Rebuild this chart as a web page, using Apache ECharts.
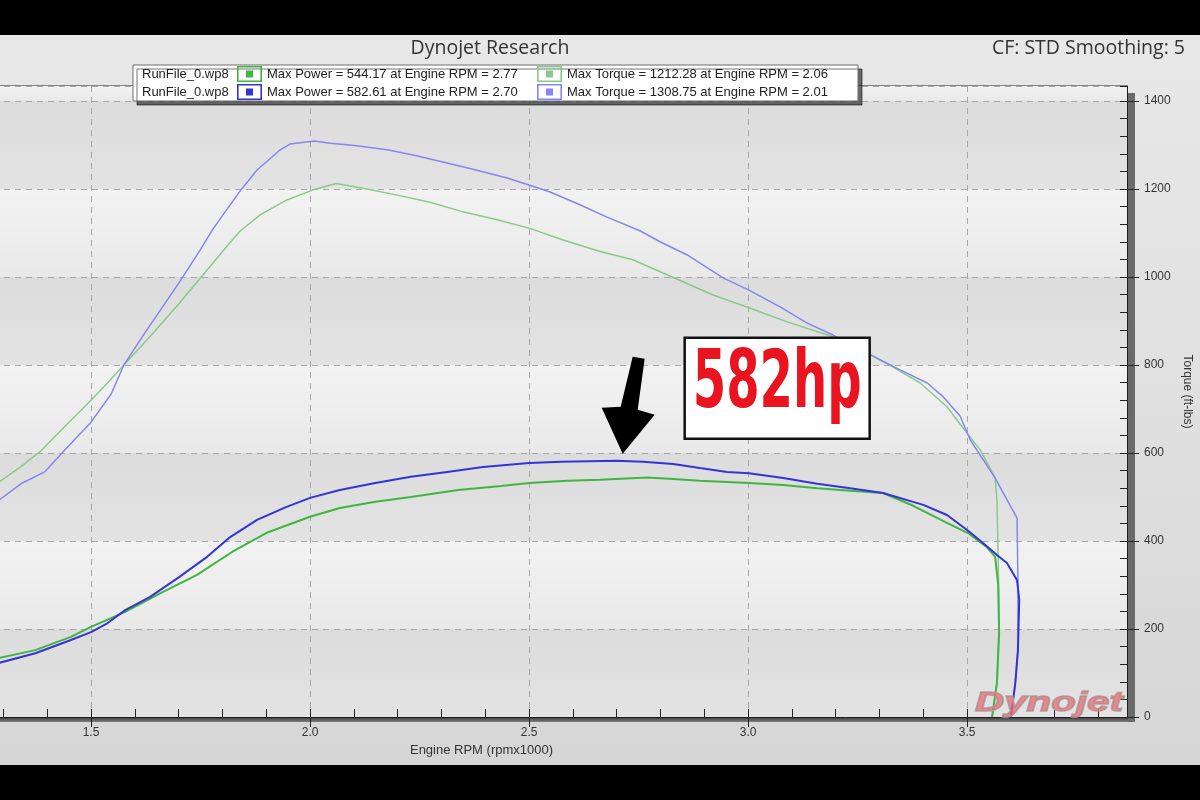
<!DOCTYPE html>
<html>
<head>
<meta charset="utf-8">
<script src="https://cdn.jsdelivr.net/npm/echarts@6/dist/echarts.min.js"></script>
<style>
html,body{margin:0;padding:0;background:#000;width:1200px;height:800px;overflow:hidden}
#c{position:absolute;left:0;top:35px;width:1200px;height:730px}
</style>
</head>
<body>
<div id="c"></div>
<script>
// ---------------- DATA ----------------
const runFileName = 'RunFile_0.wp8';
const chartTitle = 'Dynojet Research';
const cfText = 'CF: STD Smoothing: 5';
const xAxisName = 'Engine RPM (rpmx1000)';
const yAxisName = 'Torque (ft-lbs)';
const peakText = '582hp';
const logoText = 'Dynojet';

const seriesNames = [
  'Max Power = 544.17 at Engine RPM = 2.77',
  'Max Torque = 1212.28 at Engine RPM = 2.06',
  'Max Power = 582.61 at Engine RPM = 2.70',
  'Max Torque = 1308.75 at Engine RPM = 2.01'
];

// Run A (green) - power
const rpmPowerA = [1.29,1.373,1.454,1.5,1.578,1.66,1.742,1.822,1.904,2.0,2.068,2.149,2.23,2.338,2.436,2.5,2.587,2.662,2.77,2.829,2.89,3.002,3.08,3.158,3.233,3.308,3.377,3.454,3.502,3.545,3.564,3.571,3.573,3.568,3.557];
const powerA    = [134,152,182,205,239,282,323,375,420,455,475,489,500,516,525,532,537,539,544.17,541,537,532,527,520,514,509,480,441,418,386,364,300,191,77,0];
// Run A (green) - torque
const rpmTorqueA = [1.29,1.34,1.386,1.44,1.5,1.54,1.575,1.644,1.703,1.765,1.817,1.84,1.886,1.947,2.007,2.06,2.13,2.199,2.274,2.349,2.427,2.5,2.578,2.662,2.737,2.815,2.92,3.002,3.089,3.194,3.272,3.331,3.393,3.454,3.5,3.53,3.564,3.568,3.571,3.573,3.568,3.557];
const torqueA    = [534,569,605,660,720,762,800,875,942,1016,1078,1104,1141,1175,1198,1212.28,1200,1186,1170,1148,1130,1111,1084,1058,1039,1005,959,930,898,864,827,795,759,705,645,607,543,493,364,191,77,0];
// Run B (blue) - power
const rpmPowerB = [1.29,1.373,1.454,1.5,1.537,1.578,1.635,1.701,1.765,1.815,1.879,1.945,2.0,2.068,2.149,2.23,2.313,2.395,2.5,2.573,2.7,2.76,2.829,2.89,2.952,3.002,3.08,3.158,3.233,3.308,3.4,3.454,3.5,3.537,3.568,3.591,3.614,3.619,3.616,3.61,3.6];
const powerB    = [123,145,175,193,213,243,273,318,364,407,448,477,498,516,532,546,557,568,577,580,582.61,580,575,566,557,554,543,530,520,509,482,459,425,395,368,350,311,266,152,77,0];
// Run B (blue) - torque
const rpmTorqueB = [1.29,1.34,1.394,1.447,1.5,1.546,1.575,1.621,1.703,1.749,1.779,1.84,1.879,1.932,1.954,2.01,2.046,2.107,2.176,2.235,2.313,2.388,2.45,2.5,2.548,2.616,2.678,2.753,2.799,2.861,2.943,3.002,3.073,3.135,3.194,3.272,3.347,3.409,3.445,3.484,3.507,3.564,3.614,3.616,3.616,3.61,3.6];
const torqueB    = [493,530,557,614,670,734,800,870,990,1061,1110,1195,1243,1289,1302,1308.75,1304,1298,1289,1277,1259,1241,1225,1209,1193,1164,1136,1105,1080,1050,998,970,932,895,868,827,789,759,728,684,630,543,452,311,152,77,0];

// axis ranges
const xMin = 1.0, xMax = 3.865, xMajor = 0.5, xMinor = 0.1;
const yMin = 0, yMax = 1434, yMajor = 200, yMinor = 40;

// ---------------- CHART ----------------
(function () {
const FONT = "'Liberation Sans', Arial, sans-serif";
const TFONT = "'Open Sans', 'Liberation Sans', sans-serif";
const zip = (a, b) => a.map((v, i) => [v, b[i]]);
const LG = (stops) => new echarts.graphic.LinearGradient(0, 0, 0, 1, stops.map((c, i) => ({offset: i / (stops.length - 1), color: c})));
const ICON = 'path://M0,0H25V16H0Z M1.6,1.6V14.4H23.4V1.6Z M9,4.5H16V11.5H9Z';

const colPA = '#3fb63f', colTA = '#88cb88', colPB = '#3434d6', colTB = '#8686ee';

const chart = echarts.init(document.getElementById('c'), null, {renderer: 'canvas'});

const legendBase = {
  orient: 'vertical', top: 31, padding: 0,
  itemWidth: 25, itemHeight: 16, itemGap: 2,
  icon: ICON, selectedMode: false, z: 20,
  textStyle: {fontSize: 13, color: '#222', fontFamily: FONT}
};

const option = {
  animation: false,
  backgroundColor: LG(['#e8e8e8', '#e0e0e0', '#d6d6d6']),
  grid: {
    left: -128, right: 73, top: 51, bottom: 48,
    show: true, borderColor: '#1e1e1e', borderWidth: 1,
    backgroundColor: '#e6e6e6',
    containLabel: false, outerBoundsMode: 'none'
  },
  legend: [
    Object.assign({}, legendBase, {left: 237, data: [seriesNames[0], seriesNames[2]]}),
    Object.assign({}, legendBase, {left: 537, data: [seriesNames[1], seriesNames[3]]})
  ],
  xAxis: [
    {
      type: 'value', min: xMin, max: xMax, interval: xMajor, position: 'bottom',
      axisLine: {show: true, lineStyle: {color: '#1e1e1e', width: 1}},
      axisTick: {show: true, inside: false, length: 10, lineStyle: {color: '#222'}},
      axisLabel: {formatter: v => v.toFixed(1), color: '#333', fontSize: 12, fontFamily: FONT, margin: 10, showMaxLabel: false, showMinLabel: false},
      splitLine: {show: true, lineStyle: {color: '#a8a8a8', type: [6, 5], width: 1}},
      name: xAxisName, nameLocation: 'middle', nameGap: 27,
      nameTextStyle: {fontSize: 13, color: '#333', fontFamily: FONT, padding: [0, 36, 0, 0]}
    },
    {
      type: 'value', min: xMin, max: xMax, interval: xMinor, position: 'bottom', offset: 0,
      axisLine: {show: false},
      axisTick: {show: true, inside: true, length: 8, lineStyle: {color: '#222'}},
      axisLabel: {show: false}, splitLine: {show: false}
    }
  ],
  yAxis: [
    {
      type: 'value', min: yMin, max: yMax, interval: yMajor, position: 'right',
      axisLine: {show: true, lineStyle: {color: '#1e1e1e', width: 1}},
      axisTick: {show: true, inside: false, length: 12, lineStyle: {color: '#222'}},
      axisLabel: {formatter: v => String(v), color: '#333', fontSize: 12, fontFamily: FONT, margin: 17, showMaxLabel: false},
      splitLine: {show: true, lineStyle: {color: '#a8a8a8', type: [6, 5], width: 1}},
      splitArea: {show: true, areaStyle: {color: [LG(['#dcdcdc', '#e3e3e3']), LG(['#f2f2f2', '#e9e9e9'])]}},
      name: yAxisName, nameLocation: 'middle', nameRotate: -90, nameGap: 43,
      nameTextStyle: {fontSize: 12, color: '#333', fontFamily: FONT, padding: [0, 20, 0, 0]}
    },
    {
      type: 'value', min: yMin, max: yMax, interval: yMinor, position: 'right', offset: 0,
      axisLine: {show: false},
      axisTick: {show: true, inside: true, length: 7, lineStyle: {color: '#222'}},
      axisLabel: {show: false}, splitLine: {show: false}
    }
  ],
  series: [
    {name: seriesNames[1], type: 'line', data: zip(rpmTorqueA, torqueA), color: colTA, lineStyle: {width: 1.5}, showSymbol: false, symbol: 'none', z: 2},
    {name: seriesNames[3], type: 'line', data: zip(rpmTorqueB, torqueB), color: colTB, lineStyle: {width: 1.5}, showSymbol: false, symbol: 'none', z: 2},
    {name: seriesNames[0], type: 'line', data: zip(rpmPowerA, powerA), color: colPA, lineStyle: {width: 2}, showSymbol: false, symbol: 'none', z: 3},
    {name: seriesNames[2], type: 'line', data: zip(rpmPowerB, powerB), color: colPB, lineStyle: {width: 2}, showSymbol: false, symbol: 'none', z: 3}
  ]
};
chart.setOption(option);

// ---------- annotations / decorations positioned from the axes ----------
const pxRight = chart.convertToPixel({xAxisIndex: 0}, xMax);
const pxBottom = chart.convertToPixel({yAxisIndex: 0}, yMin);
const pxTop = chart.convertToPixel({yAxisIndex: 0}, yMax);

let pk = 0;
powerB.forEach((v, i) => { if (v > powerB[pk]) pk = i; });
const peak = chart.convertToPixel({gridIndex: 0}, [rpmPowerB[pk], powerB[pk]]);
const tip = [peak[0] + 6, peak[1] - 7];
const arrowRel = [[10, -97], [22, -95], [15, -44], [32, -39], [0, 0], [-21, -46], [-2, -47]];

const meas = document.createElement('canvas').getContext('2d');
const bigFam = "'Liberation Sans Narrow', 'DejaVu Sans Condensed', 'Liberation Sans', sans-serif";
meas.font = 'bold 80px ' + bigFam;
const bigScale = 169 / meas.measureText(peakText).width;
meas.font = 'italic 900 28px ' + FONT;
const logoScale = 148 / meas.measureText(logoText).width;

const boxX = peak[0] + 68, boxY = peak[1] - 123;

chart.setOption({
  graphic: {elements: [
    {type: 'text', x: 490, y: 13, style: {text: chartTitle, fontSize: 19.5, fontFamily: TFONT, fill: '#333', align: 'center', verticalAlign: 'middle'}},
    {type: 'text', x: 1185, y: 13, style: {text: cfText, fontSize: 19.5, fontFamily: TFONT, fill: '#333', align: 'right', verticalAlign: 'middle'}},
    {type: 'rect', z: 15, shape: {x: 133, y: 30, width: 725, height: 36}, style: {fill: '#fff', stroke: '#6e6e6e', lineWidth: 1, shadowColor: 'rgba(0,0,0,0.55)', shadowOffsetX: 4, shadowOffsetY: 4, shadowBlur: 0}},
    {type: 'text', z: 20, x: 142, y: 39, style: {text: runFileName, fontSize: 13, fontFamily: FONT, fill: '#222', align: 'left', verticalAlign: 'middle'}},
    {type: 'text', z: 20, x: 142, y: 57, style: {text: runFileName, fontSize: 13, fontFamily: FONT, fill: '#222', align: 'left', verticalAlign: 'middle'}},
    {type: 'rect', z: -1, shape: {x: 0, y: pxBottom, width: pxRight + 8, height: 5}, style: {fill: LG(['#3a3a3a', '#7c7c7c'])}},
    {type: 'rect', z: -1, shape: {x: pxRight + 1, y: pxTop + 7, width: 7, height: pxBottom - pxTop - 2}, style: {fill: '#6a6a6a'}},
    {type: 'polygon', z: 30, shape: {points: arrowRel.map(p => [tip[0] + p[0], tip[1] + p[1]])}, style: {fill: '#000'}},
    {type: 'rect', z: 30, shape: {x: boxX, y: boxY, width: 185, height: 101}, style: {fill: '#fff', stroke: '#111', lineWidth: 2.5}},
    {type: 'text', z: 31, x: boxX + 92.5, y: boxY + 48.5, scaleX: bigScale,
      style: {text: peakText, font: 'bold 80px ' + bigFam, fill: '#e8141f', align: 'center', verticalAlign: 'middle'}},
    {type: 'text', z: 5, x: pxRight - 4, y: pxBottom - 14, scaleX: logoScale, style: {text: logoText, font: 'italic 900 28px ' + FONT, fill: 'rgba(226,110,118,0.75)', stroke: '#a8a8a8', lineWidth: 1.5, align: 'right', verticalAlign: 'middle'}}
  ]}
});
})();
</script>
</body>
</html>
